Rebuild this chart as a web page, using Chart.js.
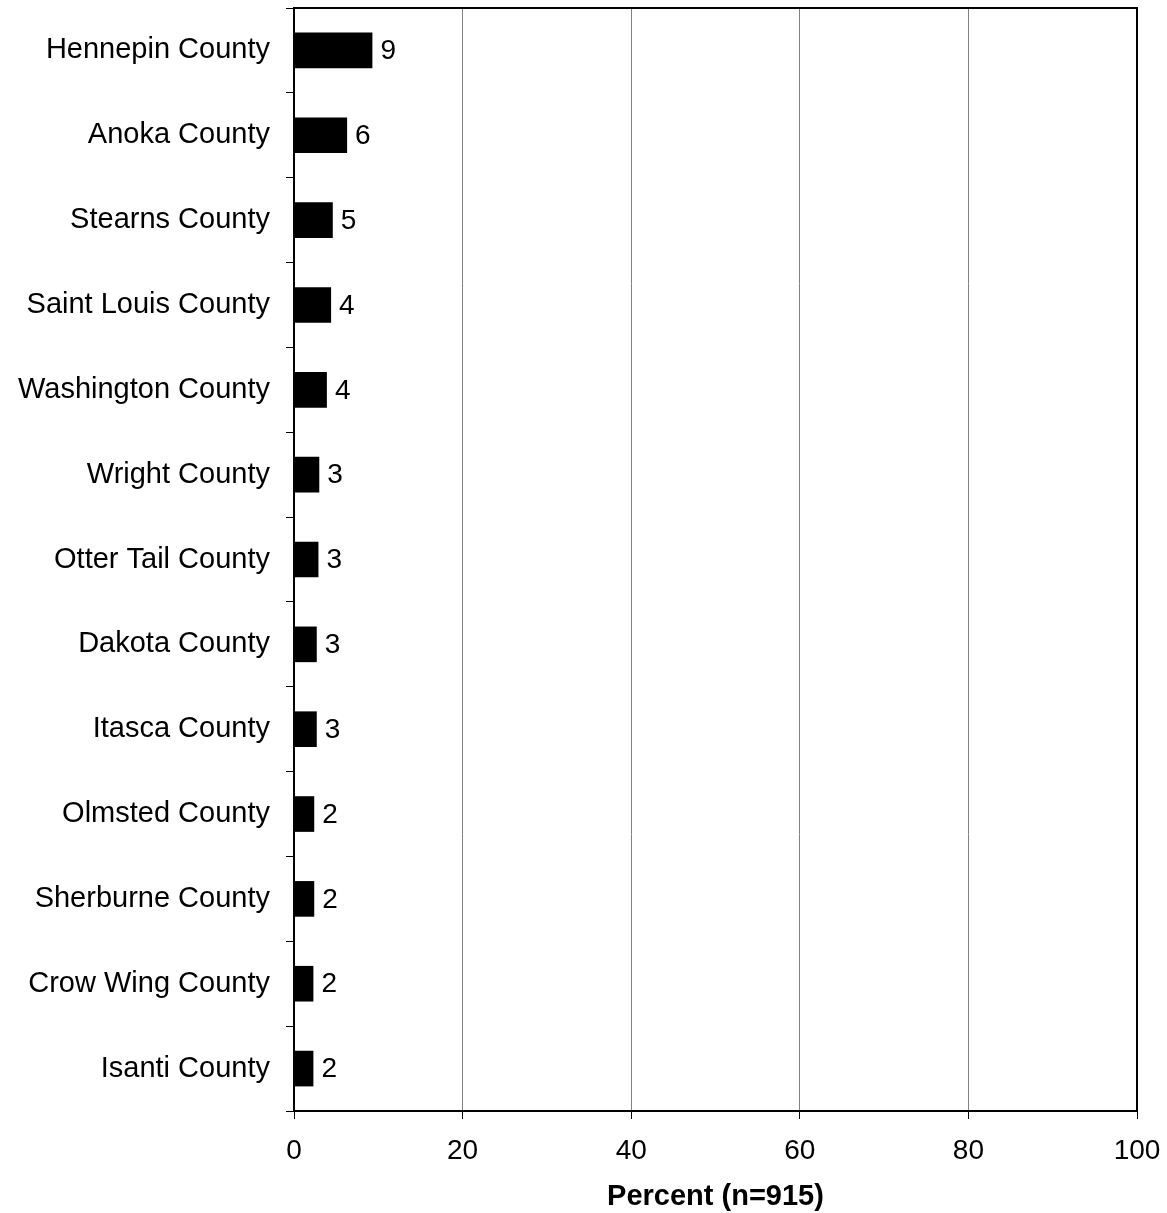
<!DOCTYPE html>
<html>
<head>
<meta charset="utf-8">
<script src="https://cdn.jsdelivr.net/npm/chart.js@4"></script>
<style>
  html, body { margin: 0; padding: 0; background: #fff; }
  #wrap { width: 1167px; height: 1213px; position: relative; }
</style>
</head>
<body>
<div id="wrap"><canvas id="c" width="1167" height="1213"></canvas></div>
<script>
const categories = ["Hennepin County","Anoka County","Stearns County","Saint Louis County","Washington County","Wright County","Otter Tail County","Dakota County","Itasca County","Olmsted County","Sherburne County","Crow Wing County","Isanti County"];
const values = [9.3, 6.3, 4.6, 4.4, 3.9, 3.0, 2.9, 2.7, 2.7, 2.4, 2.4, 2.3, 2.3];
const valueLabels = ["9","6","5","4","4","3","3","3","3","2","2","2","2"];
const xTicks = [0, 20, 40, 60, 80, 100];
const xTitle = "Percent (n=915)";

const FONT = "'Liberation Sans', Arial, Helvetica, sans-serif";

const labelPlugin = {
  id: 'valueLabels',
  afterDatasetsDraw(chart) {
    const ctx = chart.ctx;
    const meta = chart.getDatasetMeta(0);
    ctx.save();
    ctx.font = "28px " + FONT;
    ctx.fillStyle = "#000";
    ctx.textAlign = "left";
    ctx.textBaseline = "middle";
    meta.data.forEach((bar, i) => {
      ctx.fillText(valueLabels[i], bar.x + 8, bar.y + 1);
    });
    ctx.restore();
  }
};

const borderPlugin = {
  id: 'frame',
  afterDraw(chart) {
    const a = chart.chartArea;
    const ctx = chart.ctx;
    ctx.save();
    ctx.strokeStyle = "#000";
    ctx.lineWidth = 2;
    ctx.beginPath();
    ctx.moveTo(a.left, a.top);
    ctx.lineTo(a.right, a.top);
    ctx.lineTo(a.right, a.bottom);
    ctx.stroke();
    ctx.restore();
  }
};

new Chart(document.getElementById('c'), {
  type: 'bar',
  data: {
    labels: categories,
    datasets: [{
      data: values,
      backgroundColor: "#000",
      borderWidth: 0,
      barPercentage: 0.42,
      categoryPercentage: 1.0
    }]
  },
  options: {
    indexAxis: 'y',
    responsive: false,
    animation: false,
    devicePixelRatio: 1,
    layout: { padding: { top: 8, right: 30, left: 0, bottom: 0 } },
    plugins: { legend: { display: false }, tooltip: { enabled: false } },
    scales: {
      x: {
        min: 0, max: 100,
        afterBuildTicks(scale) { scale.ticks = xTicks.map(v => ({ value: v })); },
        afterFit(scale) { scale.height = 102; scale.paddingRight = 0; scale.paddingLeft = 0; },
        grid: {
          color: (c) => (c.tick && (c.tick.value === 0 || c.tick.value === 100)) ? "rgba(0,0,0,0)" : "#808080",
          lineWidth: 1,
          tickColor: "#000",
          tickLength: 8,
          drawTicks: true
        },
        border: { color: "#000", width: 2 },
        ticks: {
          color: "#000",
          font: { size: 28, family: FONT },
          padding: 15,
          maxRotation: 0
        },
        title: {
          display: true,
          text: xTitle,
          color: "#000",
          font: { size: 29, family: FONT, weight: 'bold', lineHeight: 1.0 },
          padding: { top: 4, bottom: 2 }
        }
      },
      y: {
        afterFit(scale) { scale.width = 294; scale.paddingTop = 0; scale.paddingBottom = 0; },
        grid: {
          offset: true,
          drawOnChartArea: false,
          tickColor: "#000",
          tickLength: 8
        },
        border: { color: "#000", width: 2 },
        ticks: {
          color: "#000",
          font: { size: 29, family: FONT },
          padding: 16
        }
      }
    }
  },
  plugins: [labelPlugin, borderPlugin]
});
</script>
</body>
</html>
